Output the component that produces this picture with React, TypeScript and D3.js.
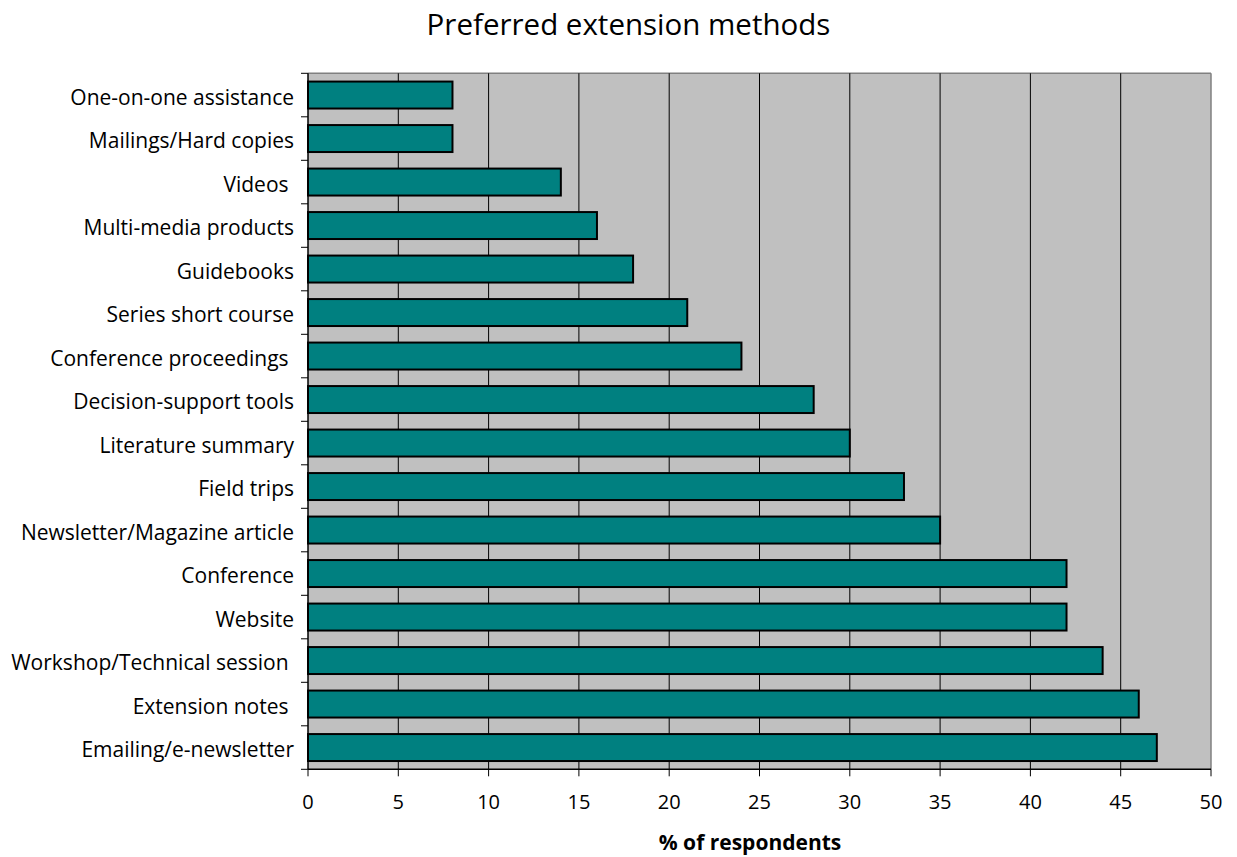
import React from "react";
import * as d3 from "d3";

const categories = [
  "One-on-one assistance",
  "Mailings/Hard copies",
  "Videos ",
  "Multi-media products",
  "Guidebooks",
  "Series short course",
  "Conference proceedings ",
  "Decision-support tools",
  "Literature summary",
  "Field trips",
  "Newsletter/Magazine article",
  "Conference",
  "Website",
  "Workshop/Technical session ",
  "Extension notes ",
  "Emailing/e-newsletter",
];
const values = [8, 8, 14, 16, 18, 21, 24, 28, 30, 33, 35, 42, 42, 44, 46, 47];
const xTicks = [0, 5, 10, 15, 20, 25, 30, 35, 40, 45, 50];
const title = "Preferred extension methods";
const xTitle = "% of respondents";

const W = 1237;
const H = 857;
const left = 308;
const right = 1211;
const top = 73.3;
const bottom = 769.3;
const font = "'Open Sans', Lato, sans-serif";

export default function App() {
  const x = d3.scaleLinear().domain([0, 50]).range([left, right]);
  const y = d3
    .scaleBand<string>()
    .domain(categories)
    .range([top, bottom])
    .paddingInner(0.38)
    .paddingOuter(0.19);
  const step = y.step();
  return (
    <svg
      width={W}
      height={H}
      style={{ position: "absolute", left: 0, top: 0, background: "#fff" }}
      fontFamily={font}
    >
      <text x={628.5} y={35} textAnchor="middle" fontSize={29.5} fill="#000">
        {title}
      </text>
      <rect x={left} y={top} width={right - left} height={bottom - top} fill="#C0C0C0" />
      <line x1={left} x2={right} y1={top} y2={top} stroke="#808080" strokeWidth={1.5} />
      <line x1={right} x2={right} y1={top} y2={bottom} stroke="#808080" strokeWidth={1.5} />
      {xTicks.slice(1, -1).map((t) => (
        <line key={t} x1={x(t)} x2={x(t)} y1={top} y2={bottom} stroke="#000" strokeWidth={1} />
      ))}
      {categories.map((c, i) => (
        <rect
          key={c}
          x={x(0)}
          y={y(c)!}
          width={x(values[i]) - x(0)}
          height={y.bandwidth()}
          fill="#008080"
          stroke="#000"
          strokeWidth={2}
        />
      ))}
      <line x1={left} x2={left} y1={top} y2={bottom} stroke="#000" strokeWidth={1.5} />
      <line x1={left} x2={right} y1={bottom} y2={bottom} stroke="#000" strokeWidth={1.5} />
      {d3.range(categories.length + 1).map((i) => (
        <line
          key={"yt" + i}
          x1={left - 7}
          x2={left}
          y1={top + i * step}
          y2={top + i * step}
          stroke="#000"
          strokeWidth={1}
        />
      ))}
      {categories.map((c) => (
        <text
          key={"l" + c}
          x={294}
          y={y(c)! + y.bandwidth() / 2}
          dy="0.45em"
          textAnchor="end"
          fontSize={21}
          fill="#000"
          style={{ whiteSpace: "pre" }}
        >
          {c}
        </text>
      ))}
      {xTicks.map((t) => (
        <g key={"xt" + t}>
          <line x1={x(t)} x2={x(t)} y1={bottom} y2={bottom + 7} stroke="#000" strokeWidth={1} />
          <text x={x(t)} y={809} textAnchor="middle" fontSize={20} fill="#000">
            {t}
          </text>
        </g>
      ))}
      <text x={750} y={850} textAnchor="middle" fontSize={21} fontWeight="bold" fill="#000">
        {xTitle}
      </text>
    </svg>
  );
}
